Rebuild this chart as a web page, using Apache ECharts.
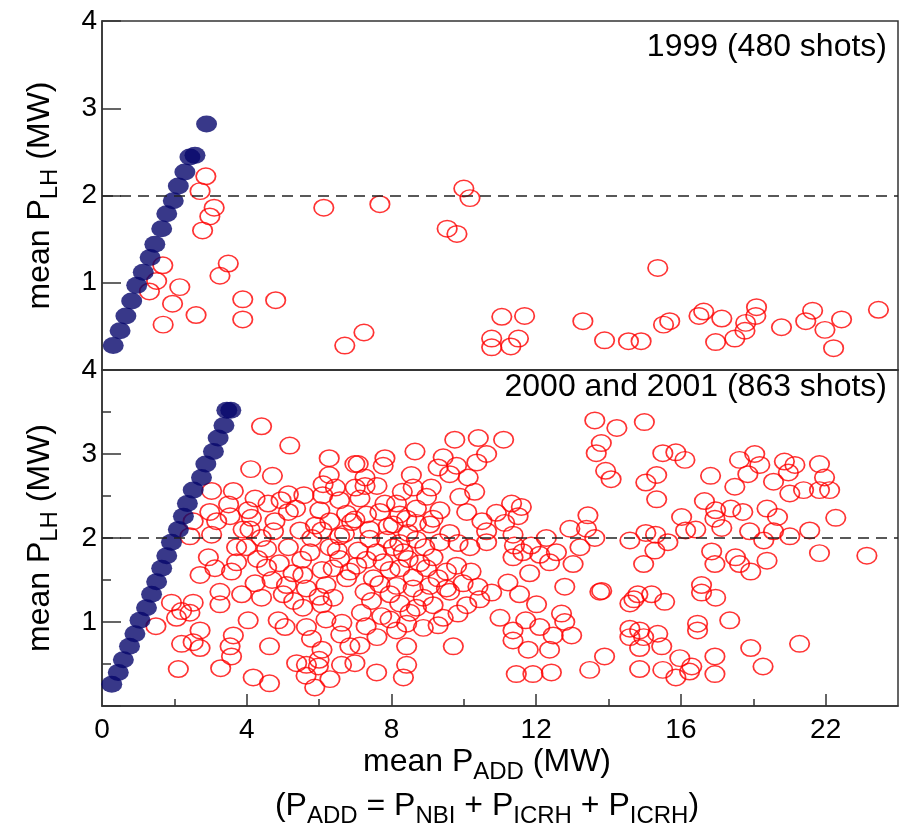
<!DOCTYPE html>
<html>
<head>
<meta charset="utf-8">
<script src="https://cdn.jsdelivr.net/npm/echarts@6/dist/echarts.min.js"></script>
<style>html,body{margin:0;padding:0;background:#fff}#c{width:907px;height:829px}</style>
</head>
<body>
<div id="c"></div>
<script>
// ---------- data ----------
const xTickValues = [0, 4, 8, 12, 16, 20];
const xTickLabels = ['0', '4', '8', '12', '16', '22'];
const xMajorTicks = [4, 8, 12, 16, 20];
const xMinorTicks = [2, 6, 10, 14, 18];
const thresholdLine = [2];

const panelTitles = ['1999 (480 shots)', '2000 and 2001 (863 shots)'];

const filled1999 = [[0.31,0.28],[0.50,0.45],[0.66,0.62],[0.82,0.79],[0.96,0.97],[1.14,1.12],[1.33,1.29],[1.46,1.44],[1.65,1.62],[1.79,1.79],[1.97,1.94],[2.11,2.11],[2.29,2.27],[2.43,2.44],[2.57,2.46],[2.89,2.82]];

const open1999 = [[2.87,2.22],[2.71,2.05],[3.10,1.86],[2.98,1.76],[2.78,1.60],[1.68,1.20],[3.49,1.22],[3.26,1.08],[1.51,1.02],[2.15,0.95],[1.31,0.90],[1.95,0.76],[3.89,0.81],[4.80,0.80],[2.60,0.63],[3.89,0.58],[1.69,0.52],
[6.13,1.86],[7.68,1.90],[10.00,2.08],[10.17,1.97],[9.54,1.62],[9.81,1.56],[15.36,1.17],[6.71,0.28],[7.24,0.43],[11.05,0.61],[11.68,0.62],[10.77,0.36],[10.77,0.26],[11.51,0.36],[11.30,0.27],[13.29,0.56],[13.89,0.34],[14.55,0.33],[14.90,0.33],[15.52,0.52],[15.69,0.56],[16.50,0.62],[16.63,0.67],[17.13,0.59],[16.96,0.32],[17.49,0.36],[17.77,0.45],[17.79,0.54],[18.07,0.62],[18.09,0.72],[18.78,0.49],[19.45,0.56],[19.64,0.68],[19.98,0.46],[20.44,0.58],[20.22,0.25],[21.46,0.69]];

const filled2000 = [[0.27,0.26],[0.45,0.40],[0.59,0.55],[0.76,0.71],[0.91,0.86],[1.05,1.02],[1.23,1.17],[1.37,1.33],[1.51,1.48],[1.65,1.64],[1.79,1.79],[1.92,1.95],[2.11,2.10],[2.25,2.26],[2.36,2.41],[2.52,2.57],[2.75,2.72],[2.87,2.88],[3.08,3.03],[3.21,3.19],[3.37,3.34],[3.45,3.52],[3.56,3.52]];

const open2000 = [
[4.41,3.33],[5.19,3.10],[4.11,2.82],[4.71,2.74],[6.28,2.95],[6.28,2.75],[6.11,2.64],[6.99,2.88],[3.03,2.56],[3.63,2.56],[4.23,2.47],[4.59,2.41],[5.15,2.52],[5.58,2.51],[6.10,2.51],[6.57,2.45],[2.98,2.31],[3.54,2.26],[4.04,2.33],[4.13,2.24],[5.15,2.31],[4.78,2.20],[2.52,2.20],[3.17,2.20],[4.09,2.10],[4.74,2.08],[5.47,2.09],[6.02,2.33],[6.30,2.20],[6.76,2.29],[6.90,2.19],[6.08,2.09],[6.57,2.02],[2.43,2.02],[3.03,2.04],[3.72,1.89],[3.99,1.89],[4.55,1.87],[5.15,1.89],[5.75,1.83],[6.30,1.89],[6.57,1.75],[5.52,1.74],[2.94,1.77],[3.72,1.71],[3.12,1.64],[4.55,1.65],[3.58,1.60],[2.71,1.56],[5.28,1.58],[5.55,1.56],[6.08,1.62],[6.39,1.64],[6.76,1.52],[4.23,1.46],[5.10,1.44],[5.65,1.40],[6.19,1.44],[3.26,1.36],[3.86,1.33],[4.41,1.29],[5.01,1.33],[6.39,1.29],[1.92,1.23],[3.26,1.21],[2.52,1.23],[2.20,1.13],[5.55,1.17],[6.08,1.21],[2.06,1.05],[2.43,1.11],[4.04,1.02],[4.87,1.02],[5.06,0.94],[5.65,0.94],[6.19,1.03],[6.63,0.99],[1.49,0.95],[5.79,0.80],[2.71,0.90],[3.63,0.84],[2.52,0.76],[2.20,0.74],[2.71,0.69],[3.54,0.71],[4.63,0.71],[3.58,0.59],[6.08,0.67],[6.85,0.71],[5.38,0.51],[5.65,0.49],[6.62,0.49],[2.11,0.44],[3.28,0.45],[5.64,0.36],[4.18,0.34],[4.63,0.27],[5.88,0.22],[6.30,0.32],[5.98,0.47],[6.00,0.55],
[13.62,3.40],[9.75,3.17],[10.40,3.19],[11.10,3.17],[13.66,3.01],[13.80,3.13],[8.65,3.03],[7.82,2.95],[7.77,2.86],[7.08,2.88],[9.43,2.96],[9.29,2.84],[9.80,2.86],[10.36,2.90],[10.63,3.00],[9.61,2.76],[10.12,2.72],[7.27,2.72],[7.27,2.62],[8.55,2.75],[8.60,2.60],[7.13,2.47],[7.82,2.41],[8.14,2.41],[8.97,2.49],[9.89,2.49],[10.08,2.31],[9.34,2.33],[8.69,2.35],[8.23,2.28],[7.68,2.31],[7.31,2.28],[6.99,2.22],[11.32,2.41],[11.59,2.37],[11.50,2.26],[13.43,2.27],[13.39,2.11],[12.93,2.11],[11.13,2.18],[10.63,2.08],[9.06,2.16],[7.91,2.14],[7.40,2.10],[8.46,2.06],[9.61,2.06],[11.36,2.04],[10.17,1.89],[10.63,1.95],[11.40,1.91],[11.86,1.91],[12.28,2.00],[12.56,1.83],[12.10,1.80],[11.63,1.83],[13.62,2.00],[13.21,1.89],[13.02,1.69],[12.37,1.71],[11.82,1.58],[11.36,1.77],[8.92,1.89],[8.05,1.89],[7.59,1.83],[7.08,1.85],[7.04,1.67],[7.77,1.71],[8.46,1.75],[9.15,1.77],[9.80,1.67],[8.97,1.64],[8.23,1.64],[7.50,1.52],[8.60,1.53],[9.29,1.52],[9.98,1.46],[10.39,1.42],[10.77,1.35],[11.22,1.47],[11.54,1.33],[12.01,1.21],[12.79,1.42],[13.76,1.36],[7.27,1.36],[7.96,1.33],[8.88,1.29],[9.61,1.36],[10.44,1.27],[7.17,1.11],[7.73,1.07],[8.51,1.11],[9.29,0.96],[9.84,1.10],[11.00,1.05],[11.36,0.90],[11.71,1.02],[12.10,0.94],[12.70,1.10],[12.79,1.00],[12.98,0.84],[12.47,0.84],[11.36,0.78],[11.78,0.67],[12.37,0.67],[9.71,0.71],[8.42,0.71],[8.14,0.90],[7.60,0.82],[7.13,0.72],[8.42,0.49],[8.33,0.34],[7.59,0.40],[11.45,0.38],[11.91,0.38],[12.42,0.40],[13.48,0.43],[13.89,0.59],[6.99,0.51],
[7.40,1.99],[8.05,2.16],[8.42,2.23],[8.69,2.18],[9.15,2.23],[7.87,1.98],[8.23,1.94],[8.69,1.98],[9.34,1.95],[9.84,1.94],[7.31,1.74],[7.96,1.62],[8.33,1.83],[8.78,1.70],[9.52,1.60],[7.68,1.45],[8.14,1.43],[8.60,1.40],[9.06,1.43],[9.52,1.40],[7.45,1.25],[8.23,1.22],[8.69,1.17],[9.15,1.20],[7.96,1.03],[8.42,0.98],[8.88,0.93],[9.43,1.05],[10.08,1.20],[6.85,1.60],[6.50,1.85],[6.70,2.05],[5.90,2.15],[5.35,2.35],[4.95,2.45],[5.80,2.00],[4.40,2.00],[3.90,2.10],[4.90,1.70],[4.30,1.75],[6.00,1.30],[5.30,1.25],[4.70,1.50],[3.50,2.40],[6.45,2.60],[7.00,2.60],[6.60,0.85],[7.30,0.95],[10.20,1.60],[10.50,2.20],[10.90,2.30],[10.30,2.55],[9.10,2.60],[8.30,2.55],[7.60,2.62],
[14.23,3.31],[14.99,3.38],[13.92,2.80],[14.07,2.70],[15.50,3.01],[15.86,3.02],[16.11,2.93],[15.03,2.66],[15.33,2.75],[15.33,2.46],[16.82,2.74],[17.49,2.61],[17.62,2.93],[18.04,3.00],[18.18,2.87],[17.85,2.76],[18.86,2.91],[19.15,2.87],[18.97,2.78],[18.56,2.67],[19.83,2.88],[19.97,2.72],[19.01,2.53],[19.39,2.57],[19.83,2.57],[20.11,2.57],[20.28,2.24],[16.65,2.44],[16.96,2.33],[16.94,2.23],[16.02,2.25],[17.38,2.35],[17.71,2.31],[18.38,2.35],[18.67,2.25],[17.13,2.12],[16.41,2.10],[16.13,2.09],[17.90,2.08],[18.56,2.08],[19.01,2.02],[19.56,2.09],[18.29,1.97],[15.03,2.06],[15.30,2.04],[14.59,1.97],[15.64,1.95],[15.28,1.85],[14.97,1.69],[16.85,1.84],[16.94,1.69],[17.51,1.77],[17.62,1.69],[17.93,1.60],[18.38,1.73],[19.83,1.82],[21.14,1.79],[16.57,1.44],[16.57,1.35],[16.96,1.29],[15.19,1.33],[15.55,1.24],[14.81,1.33],[14.59,1.22],[14.70,1.27],[13.81,1.37],[17.35,1.02],[16.46,0.98],[16.46,0.90],[14.59,0.92],[14.86,0.90],[15.36,0.86],[14.59,0.82],[14.97,0.82],[15.47,0.71],[14.86,0.69],[15.97,0.57],[16.30,0.47],[16.24,0.41],[15.86,0.34],[15.50,0.43],[14.86,0.44],[16.94,0.59],[16.94,0.38],[17.93,0.69],[18.27,0.47],[19.28,0.74]
];

// ---------- styles ----------
const FONT = '"Liberation Sans", Arial, Helvetica, sans-serif';
const AX = '#333';
const axisLineStyle = { color: AX, width: 1.5 };
const richName = {
  n: { fontSize: 32, lineHeight: 44, fontFamily: FONT, color: '#000', align: 'center' },
  s: { fontSize: 24, lineHeight: 12, verticalAlign: 'bottom', fontFamily: FONT, color: '#000', align: 'center' }
};
const yName = '{n|mean P}{s|LH}{n| (MW)}';
const xName = '{n|mean P}{s|ADD}{n| (MW)}\n{n|(P}{s|ADD}{n| = P}{s|NBI}{n| + P}{s|ICRH}{n| + P}{s|ICRH}{n|)}';

function yAxisFor(grid, minor) {
  return {
    gridIndex: grid, type: 'value', min: 0, max: 4, interval: 1,
    axisLine: { show: true, lineStyle: axisLineStyle },
    axisTick: { show: true, inside: true, length: 19, lineStyle: axisLineStyle },
    minorTick: { show: minor, splitNumber: 2, length: 9, lineStyle: axisLineStyle },
    axisLabel: { fontSize: 28, fontFamily: FONT, color: '#000', margin: 5,
      formatter: v => (v === 0 ? '' : String(v)) },
    splitLine: { show: false },
    name: yName, nameLocation: 'middle', nameGap: 40,
    nameTextStyle: { fontSize: 32, fontFamily: FONT, color: '#000', rich: richName }
  };
}

const openStyle = { color: 'rgba(0,0,0,0)', borderColor: '#ff0000', borderWidth: 1.6 };
const filledStyle = { color: '#06066c' };
const dashLine = {
  silent: true, symbol: 'none', label: { show: false },
  lineStyle: { type: [11, 7], color: '#222', width: 1.5 },
  emphasis: { disabled: true },
  data: [{ yAxis: thresholdLine[0] }]
};

const option = {
  animation: false,
  backgroundColor: '#fff',
  title: [
    { text: panelTitles[0], right: 20, top: 31, padding: 0,
      textStyle: { fontSize: 32, fontWeight: 'normal', fontFamily: FONT, color: '#000' } },
    { text: panelTitles[1], right: 20, top: 371, padding: 0,
      textStyle: { fontSize: 32, fontWeight: 'normal', fontFamily: FONT, color: '#000' } }
  ],
  grid: [
    { left: 102, right: 9, top: 21, height: 349, show: true, borderColor: AX, borderWidth: 1.5 },
    { left: 102, right: 9, top: 370, height: 344, show: true, borderColor: AX, borderWidth: 1.5 }
  ],
  xAxis: [
    { gridIndex: 0, type: 'value', min: 0, max: 22,
      axisLine: { show: true, lineStyle: axisLineStyle }, axisTick: { show: false },
      axisLabel: { show: false }, splitLine: { show: false } },
    { gridIndex: 1, type: 'value', min: 0, max: 22, position: 'bottom',
      axisLine: { show: true, lineStyle: axisLineStyle },
      axisTick: { show: true, inside: true, length: 12, customValues: xMajorTicks, lineStyle: axisLineStyle },
      axisLabel: { customValues: xTickValues, fontSize: 28, fontFamily: FONT, color: '#000', margin: 10,
        formatter: v => { const i = xTickValues.indexOf(v); return i < 0 ? '' : xTickLabels[i]; } },
      splitLine: { show: false },
      name: xName, nameLocation: 'middle', nameGap: 34,
      nameTextStyle: { fontSize: 32, fontFamily: FONT, color: '#000', rich: richName, padding: [0, 26, 0, 0] } },
    { gridIndex: 1, type: 'value', min: 0, max: 22, position: 'bottom',
      axisLine: { show: false },
      axisTick: { show: true, inside: true, length: 7, customValues: xMinorTicks, lineStyle: axisLineStyle },
      axisLabel: { show: false }, splitLine: { show: false } }
  ],
  yAxis: [ yAxisFor(0, false), yAxisFor(1, true) ],
  series: [
    { type: 'scatter', xAxisIndex: 0, yAxisIndex: 0, data: open1999, symbol: 'circle',
      symbolSize: [19.5, 16.5], itemStyle: openStyle, markLine: dashLine, silent: true },
    { type: 'scatter', xAxisIndex: 0, yAxisIndex: 0, data: filled1999, symbol: 'circle',
      symbolSize: [21, 17], itemStyle: filledStyle, silent: true },
    { type: 'scatter', xAxisIndex: 1, yAxisIndex: 1, data: open2000, symbol: 'circle',
      symbolSize: [19.5, 16.5], itemStyle: openStyle, markLine: dashLine, silent: true },
    { type: 'scatter', xAxisIndex: 1, yAxisIndex: 1, data: filled2000, symbol: 'circle',
      symbolSize: [21, 17], itemStyle: filledStyle, silent: true }
  ]
};

const chart = echarts.init(document.getElementById('c'), null, { renderer: 'canvas' });
chart.setOption(option);
</script>
</body>
</html>
